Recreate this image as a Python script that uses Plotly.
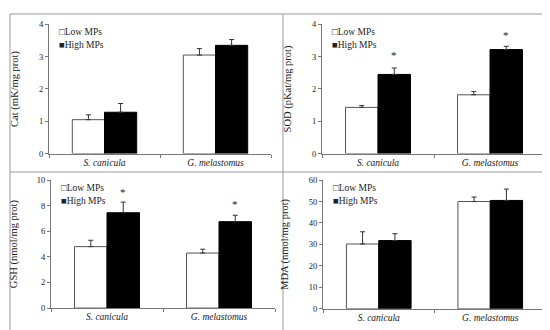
import plotly.graph_objects as go

W, H = 550, 330

categories = ["S. canicula", "G. melastomus"]
series_names = ["Low MPs", "High MPs"]

# Panel data (mean, upper error)
cat_low = [1.05, 3.05]
cat_low_err = [0.15, 0.20]
cat_high = [1.28, 3.35]
cat_high_err = [0.27, 0.18]

sod_low = [1.43, 1.82]
sod_low_err = [0.06, 0.10]
sod_high = [2.45, 3.22]
sod_high_err = [0.20, 0.10]
sod_star = [3.05, 3.67]

gsh_low = [4.8, 4.3]
gsh_low_err = [0.5, 0.3]
gsh_high = [7.45, 6.75]
gsh_high_err = [0.83, 0.5]
gsh_star = [9.1, 8.1]

mda_low = [30.2, 50.0]
mda_low_err = [5.7, 2.1]
mda_high = [31.8, 50.5]
mda_high_err = [3.2, 5.3]

y_titles = ["Cat (mK/mg prot)", "SOD (pKat/mg prot)", "GSH (nmol/mg prot)", "MDA (nmol/mg prot)"]
y_ranges = [[0, 4], [0, 4], [0, 10], [0, 60]]
y_dticks = [1, 1, 2, 10]

FONT = "Liberation Serif"
AX = "#777777"

def px_x(a, b):
    return [a / W, b / W]

def px_y(top, bottom):
    return [1 - bottom / H, 1 - top / H]

domains = [
    (px_x(41, 263), px_y(11.7, 145)),
    (px_x(314, 538), px_y(11.7, 145)),
    (px_x(43, 267), px_y(172.3, 304.3)),
    (px_x(315, 538), px_y(172.3, 305)),
]

panels = [
    (cat_low, cat_low_err, cat_high, cat_high_err, None),
    (sod_low, sod_low_err, sod_high, sod_high_err, sod_star),
    (gsh_low, gsh_low_err, gsh_high, gsh_high_err, gsh_star),
    (mda_low, mda_low_err, mda_high, mda_high_err, None),
]

fig = go.Figure()
ticktext = ["<i>" + c + "</i>" for c in categories]

for i, (lo, loe, hi, hie, star) in enumerate(panels):
    n = "" if i == 0 else str(i + 1)
    xa, ya = "x" + n, "y" + n
    fig.add_trace(go.Bar(
        x=categories, y=lo, name=series_names[0], xaxis=xa, yaxis=ya,
        marker=dict(color="white", line=dict(color="#555555", width=1)),
        error_y=dict(type="data", symmetric=False, array=loe, arrayminus=[0, 0],
                     color="#333333", thickness=1, width=2.5),
        showlegend=False,
    ))
    fig.add_trace(go.Bar(
        x=categories, y=hi, name=series_names[1], xaxis=xa, yaxis=ya,
        marker=dict(color="black", line=dict(color="black", width=1)),
        error_y=dict(type="data", symmetric=False, array=hie, arrayminus=[0, 0],
                     color="#333333", thickness=1, width=2.5),
        showlegend=False,
    ))
    dx, dy = domains[i]
    fig.layout["xaxis" + n] = dict(
        domain=dx, anchor=ya, type="category", range=[-0.5, 1.5],
        tickson="boundaries", ticks="outside", ticklen=3, tickcolor=AX,
        showline=True, linecolor=AX, linewidth=1, showgrid=False,
        tickvals=categories, ticktext=ticktext,
        tickfont=dict(family=FONT, size=9.5, color="#222222"),
    )
    fig.layout["yaxis" + n] = dict(
        domain=dy, anchor=xa, range=y_ranges[i], dtick=y_dticks[i],
        ticks="outside", ticklen=3, tickcolor=AX,
        showline=True, linecolor=AX, linewidth=1, showgrid=False, zeroline=False,
        tickfont=dict(family=FONT, size=8.5, color="#222222"),
        title=dict(text=y_titles[i], font=dict(family=FONT, size=10.5, color="#222222"), standoff=18),
    )
    if star is not None:
        for c, s in zip(categories, star):
            fig.add_annotation(x=c, y=s, xref=xa, yref=ya, text="*", showarrow=False,
                               xshift=16, font=dict(family=FONT, size=11, color="#222222"))
    # legend (text built from series names)
    lx = dx[0] + 8 / W
    ly = dy[1] - 1 / H
    fig.add_annotation(x=lx, y=ly, xref="paper", yref="paper", xanchor="left", yanchor="top",
                       text="\u25a1" + series_names[0], showarrow=False,
                       font=dict(family=FONT, size=9.5, color="#222222"))
    fig.add_annotation(x=lx, y=ly - 13 / H, xref="paper", yref="paper", xanchor="left", yanchor="top",
                       text="\u25a0" + series_names[1], showarrow=False,
                       font=dict(family=FONT, size=9.5, color="#222222"))

FR = "#9a9a9a"
fig.add_shape(type="rect", xref="paper", yref="paper", x0=2 / W, x1=548 / W, y0=1 - 328 / H, y1=1 - 1 / H,
              line=dict(color=FR, width=1))
fig.add_shape(type="line", xref="paper", yref="paper", x0=275 / W, x1=275 / W, y0=1 - 328 / H, y1=1 - 1 / H,
              line=dict(color=FR, width=1))
fig.add_shape(type="line", xref="paper", yref="paper", x0=2 / W, x1=548 / W, y0=1 - 164 / H, y1=1 - 164 / H,
              line=dict(color=FR, width=1))

fig.update_layout(
    width=W, height=H, margin=dict(l=0, r=0, t=0, b=0),
    barmode="group", bargap=0.42, bargroupgap=0,
    paper_bgcolor="white", plot_bgcolor="white",
    font=dict(family=FONT),
)

fig.write_html("out.html")
